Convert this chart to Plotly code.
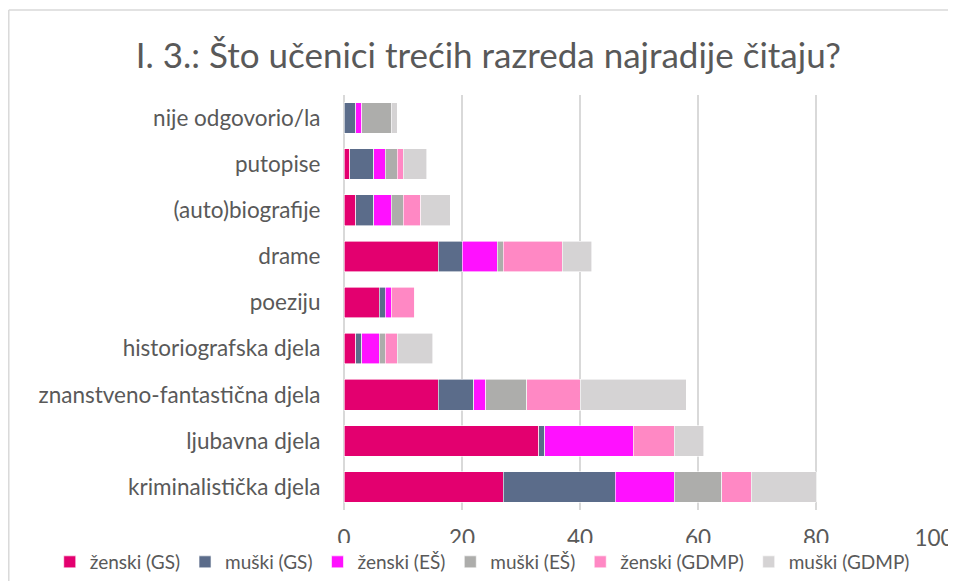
import plotly.graph_objects as go

categories = ["kriminalistička djela", "ljubavna djela", "znanstveno-fantastična djela",
              "historiografska djela", "poeziju", "drame", "(auto)biografije",
              "putopise", "nije odgovorio/la"]

zenski_gs   = [27, 33, 16, 2, 6, 16, 2, 1, 0]
muski_gs    = [19, 1, 6, 1, 1, 4, 3, 4, 2]
zenski_es   = [10, 15, 2, 3, 1, 6, 3, 2, 1]
muski_es    = [8, 0, 7, 1, 0, 1, 2, 2, 5]
zenski_gdmp = [5, 7, 9, 2, 4, 10, 3, 1, 0]
muski_gdmp  = [11, 5, 18, 6, 0, 5, 5, 4, 1]

series_names = ["ženski (GS)", "muški (GS)", "ženski (EŠ)", "muški (EŠ)",
                "ženski (GDMP)", "muški (GDMP)"]
series_values = [zenski_gs, muski_gs, zenski_es, muski_es, zenski_gdmp, muski_gdmp]
colors = ["#E3006F", "#5B6C8A", "#FF11FF", "#ADADAB", "#FF88C4", "#D5D3D4"]

x_ticks = [0, 20, 40, 60, 80, 100]

FONT = "Lato, 'Open Sans', sans-serif"
TXT = "#595959"

fig = go.Figure()
for name, vals, col in zip(series_names, series_values, colors):
    fig.add_trace(go.Bar(
        y=categories, x=vals, name=name, orientation="h",
        marker=dict(color=col, line=dict(width=0.6, color="white")),
        hoverinfo="x+y+name",
    ))

# page body has an 8px default margin, so the figure is offset by 8px
OFF = 8
W, H = 956 - OFF, 581 - OFF
L, R, T, B = 343.5 - OFF, 22, 95 - OFF, 79 - OFF
pw, ph = W - L - R, H - T - B

def px_x(p):  # page pixel -> paper fraction
    return (p - OFF - L) / pw

def px_y(p):
    return 1 - (p - OFF - T) / ph

fig.update_layout(
    width=W, height=H,
    barmode="stack", bargap=0.336,
    margin=dict(l=L, r=R, t=T, b=B, autoexpand=False),
    paper_bgcolor="white", plot_bgcolor="white",
    font=dict(family=FONT, color=TXT, size=22),
    title=dict(text="I. 3.: Što učenici trećih razreda najradije čitaju?",
               font=dict(size=35, color=TXT, family=FONT),
               x=px_x(488), xref="paper", xanchor="center",
               y=1 - (55.5 - OFF) / H, yref="container", yanchor="middle"),
    xaxis=dict(range=[0, 100], tickvals=x_ticks, showgrid=True,
               gridcolor="#D9D9D9", gridwidth=1.5, zeroline=True,
               zerolinecolor="#D9D9D9", zerolinewidth=1.5,
               tickfont=dict(size=22.5, color=TXT), ticks="outside",
               ticklen=8, tickcolor="rgba(0,0,0,0)", showline=False,
               fixedrange=True),
    yaxis=dict(categoryorder="array", categoryarray=categories,
               tickfont=dict(size=22.5, color=TXT), ticks="outside",
               ticklen=18, tickcolor="rgba(0,0,0,0)", showgrid=False,
               fixedrange=True),
    legend=dict(orientation="h", x=px_x(49), xref="paper", xanchor="left",
                y=px_y(562), yref="paper", yanchor="middle",
                font=dict(size=19, color=TXT), traceorder="normal",
                itemwidth=30, tracegroupgap=0),
    shapes=[
        dict(type="line", xref="paper", yref="paper",
             x0=px_x(8), x1=px_x(8), y0=px_y(10), y1=px_y(600),
             line=dict(color="#D9D9D9", width=1.5)),
        dict(type="line", xref="paper", yref="paper",
             x0=px_x(8), x1=px_x(970), y0=px_y(10), y1=px_y(10),
             line=dict(color="#D9D9D9", width=1.5)),
    ],
)

fig.write_html("out.html")
